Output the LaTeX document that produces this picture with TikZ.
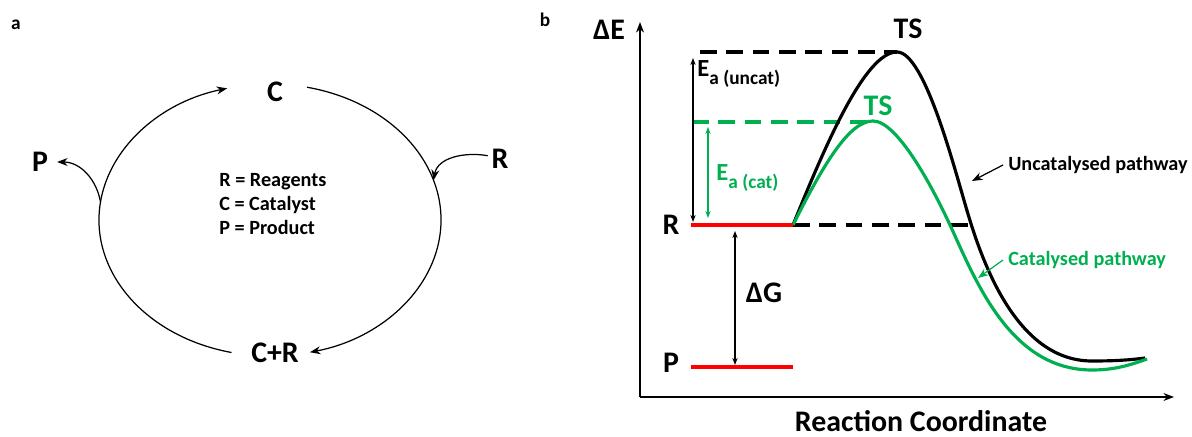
\documentclass[tikz,border=0pt]{standalone}
\usepackage{fontspec}
\setmainfont{Carlito}
\usetikzlibrary{arrows.meta}
\definecolor{pathgreen}{RGB}{0,176,80}
\definecolor{levelred}{RGB}{255,0,0}
\newcommand{\Ea}[1]{E\raisebox{-4.5pt}{\fontsize{11}{13}\selectfont a (#1)}}

\begin{document}
\begin{tikzpicture}[x=0.02cm, y=0.02cm,
    big/.style={font=\fontsize{17}{20}\selectfont\bfseries, inner sep=2pt},
    tag/.style={font=\fontsize{11}{13}\selectfont\bfseries, inner sep=0pt},
    legend/.style={font=\fontsize{11.5}{13.9}\selectfont\bfseries, align=left, inner sep=0pt},
    cyc/.style={line width=0.7pt, -{Stealth[length=6pt,width=4.5pt]}},
    axis/.style={line width=0.9pt, -{Stealth[length=6pt,width=4.5pt]}},
    level/.style={levelred, line width=1.8pt},
    guide/.style={line width=1.8pt, dash pattern=on 9.5pt off 5.5pt},
    curve/.style={line width=1.8pt},
    gap/.style={line width=0.7pt, {Stealth[length=4pt,width=3pt]}-{Stealth[length=4pt,width=3pt]}},
    pathlab/.style={font=\fontsize{11.5}{14}\selectfont\bfseries, anchor=west,
                    inner sep=0pt, outer sep=3pt}
  ]
  \useasboundingbox (0,0) rectangle (1192,436);

  % Panel a: catalytic cycle
  \node[tag] (la) at (16,411) {a};
  \coordinate (ctr) at (270,216);
  \node[big] (cat) at (275,344) {C};
  \node[big] (catr) at (275,83) {C+R};
  \node[big] (prod) at (40,274) {P};
  \node[big] (reag) at (500,277) {R};
  \node[legend, anchor=west] (key) at (219,232)
    {R = Reagents\\C = Catalyst\\P = Product};

  \path (ctr) ++(77.5:171 and 136) coordinate (arcR);
  \path (ctr) ++(257:171 and 136) coordinate (arcL);
  \path (ctr) ++(17:171 and 136) coordinate (inR);
  \path (ctr) ++(172.4:171 and 136) coordinate (outP);
  \draw[cyc] (arcR) arc[start angle=77.5, end angle=-76.5, x radius=171, y radius=136];
  \draw[cyc] (arcL) arc[start angle=257, end angle=104.5, x radius=171, y radius=136];
  \draw[cyc] (reag.165) to[out=170, in=80] (inR);
  \draw[cyc] (outP) to[out=100, in=0] ([xshift=3pt]prod.east);

  % Panel b: energy profile
  \node[tag] (lb) at (545,416) {b};
  \coordinate (orig) at (640,39);
  \coordinate (ytop) at (640,414);
  \coordinate (xend) at (1174,39);
  \draw[axis] (orig) -- (ytop);
  \draw[axis] (orig) -- (xend);
  \node[big] (dE) at (609,406) {ΔE};
  \node[big, anchor=base, inner sep=0pt] (xlab) at (921,5) {Reaction Coordinate};

  % Guide lines
  \draw[guide] (700,384) -- (897,384);
  \draw[guide, pathgreen] (692,314) -- (870,314);
  \draw[guide] (793,211) -- (971,211);

  % Pathways
  \draw[curve] (793,211) .. controls (825,290) and (865,384) .. (897,384)
    .. controls (925,384) and (955,265) .. (968,222)
    .. controls (985,165) and (1020,75) .. (1092,75)
    .. controls (1115,75) and (1130,76) .. (1145,78);
  \draw[curve, pathgreen] (793,211) .. controls (825,275) and (850,315) .. (873,315)
    .. controls (898,315) and (935,245) .. (955,200)
    .. controls (980,145) and (1015,66) .. (1092,66)
    .. controls (1115,66) and (1130,71) .. (1147,77);

  % Levels
  \draw[level] (691,211) -- (793,211);
  \draw[level] (691,69) -- (793,69);
  \node[big] (rlab) at (671,211) {R};
  \node[big] (plab) at (671,73) {P};
  \node[big] (tsu) at (908,407) {TS};
  \node[big, text=pathgreen] (tsc) at (878,330) {TS};

  % Energy gaps
  \draw[gap] (693,214) -- (693,378);
  \draw[gap, pathgreen] (708,218) -- (708,309);
  \draw[gap] (735,205) -- (735,71);
  \node[anchor=base west, inner sep=0pt, font=\fontsize{14}{16}\selectfont\bfseries]
    (eun) at (697,359) {\Ea{uncat}};
  \node[anchor=base west, inner sep=0pt, text=pathgreen,
    font=\fontsize{14}{16}\selectfont\bfseries] (ecat) at (716,255) {\Ea{cat}};
  \node[big, anchor=west] (dG) at (742,143) {ΔG};

  % Pathway labels
  \node[pathlab] (unc) at (1003,271) {Uncatalysed pathway};
  \node[pathlab, text=pathgreen] (cpw) at (1003,176) {Catalysed pathway};
  \coordinate (onU) at (972,255);
  \coordinate (onC) at (978,158);
  \draw[cyc] (unc.west) -- (onU);
  \draw[cyc, pathgreen] (cpw.west) -- (onC);
\end{tikzpicture}
\end{document}
